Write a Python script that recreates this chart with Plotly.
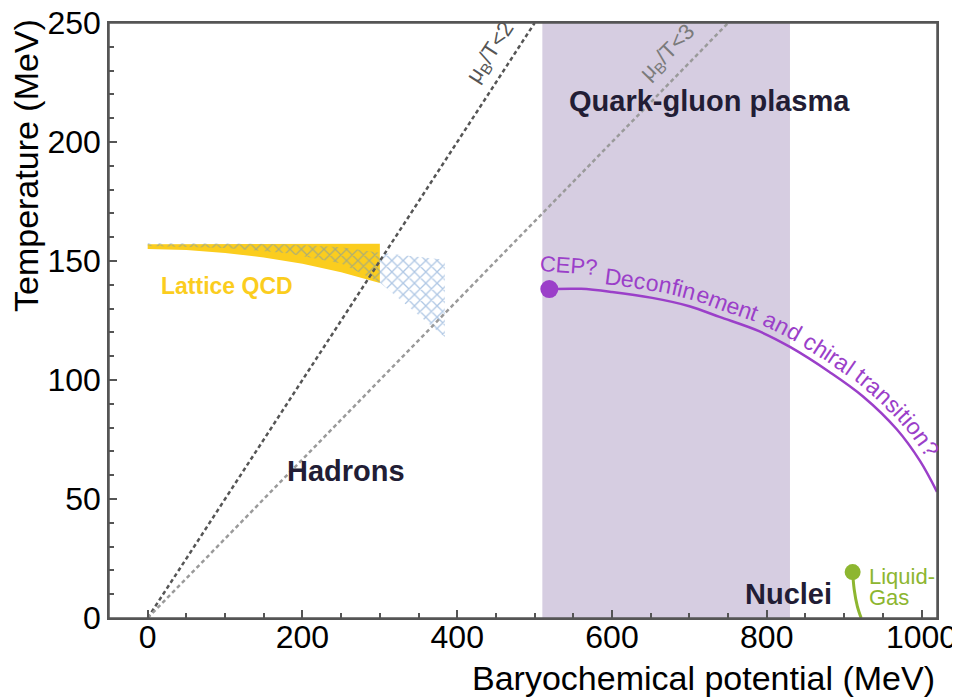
import math
import numpy as np
import plotly.graph_objects as go

# ---------------- data ----------------
x_range = [-50, 1020]
y_range = [0, 250]
x_major = 200
x_minor = 50
y_major = 50
y_minor = 10

qgp_mu = [510, 830]                      # shaded QGP band (MeV)

ratio2_mu = [0, 500]
ratio2_T = [0, 250]
ratio3_mu = [0, 750]
ratio3_T = [0, 250]

lat_mu = [0, 50, 100, 150, 200, 250, 300]
lat_upper = [157.0, 157.0, 157.0, 157.0, 157.0, 157.0, 157.3]
lat_lower = [155.0, 154.6, 153.4, 151.5, 148.8, 145.3, 140.8]

hatch_mu = [0, 100, 180, 250, 300, 384]
hatch_upper = [157.5, 157.4, 157.0, 155.8, 153.5, 150.5]
hatch_lower = [156.3, 155.5, 153.3, 149.0, 141.0, 118.0]

cep_mu = [519, 560, 600, 652, 700, 739, 790, 830, 881, 924, 968, 998, 1020]
cep_T = [138.2, 138.3, 137.0, 134.5, 131.0, 126.5, 120.5, 113.9, 103.4, 93.2, 79.3, 66.0, 53.0]

lg_mu = [911, 913, 917, 922]
lg_T = [19.3, 12.0, 5.0, 0.0]

curve_label = "Deconfinement and chiral transition?"

# ---------------- styles ----------------
FONT = "Liberation Sans, Arial, sans-serif"
PURPLE = "#9b3fc9"
YELLOW = "#fbcd1e"
GREEN = "#8db630"
DARK = "#221d35"
SHADE = "#d6cde1"
AXIS = "#555555"

# page geometry (the page body has an 8px default margin)
PAGE_OFF = 8
W, H = 960 - PAGE_OFF, 698 - PAGE_OFF
# plot area in page pixels
L, R, TOP, BOT = 109, 937, 23, 618
ML, MT = L - PAGE_OFF, TOP - PAGE_OFF
MR, MB = W - (R - PAGE_OFF), H - (BOT - PAGE_OFF)
sx = (R - L) / (x_range[1] - x_range[0])
sy = (BOT - TOP) / (y_range[1] - y_range[0])


def to_px(mu, T):
    return L + (mu - x_range[0]) * sx, BOT - (T - y_range[0]) * sy


def to_data(px, py):
    return x_range[0] + (px - L) / sx, y_range[0] + (BOT - py) / sy


fig = go.Figure()

# QGP shaded band
fig.add_shape(type="rect", xref="x", yref="y", x0=qgp_mu[0], x1=qgp_mu[1],
              y0=y_range[0], y1=y_range[1], fillcolor=SHADE, line=dict(width=0),
              layer="below")

# Lattice QCD yellow band
fig.add_trace(go.Scatter(x=lat_mu + lat_mu[::-1], y=lat_upper + lat_lower[::-1],
                         mode="lines", line=dict(width=0),
                         fill="toself", fillcolor=YELLOW, hoverinfo="skip"))

# hatched extrapolation region
fig.add_trace(go.Scatter(x=hatch_mu + hatch_mu[::-1], y=hatch_upper + hatch_lower[::-1],
                         mode="lines", line=dict(width=0),
                         fill="toself", fillcolor="rgba(0,0,0,0)",
                         fillpattern=dict(shape="x", size=8, solidity=0.3,
                                          fgcolor="#5f8fca", bgcolor="rgba(0,0,0,0)"),
                         hoverinfo="skip"))

# mu_B/T lines
fig.add_trace(go.Scatter(x=ratio2_mu, y=ratio2_T, mode="lines",
                         line=dict(color="#555555", width=2.5, dash="4px,3px")))
fig.add_trace(go.Scatter(x=ratio3_mu, y=ratio3_T, mode="lines",
                         line=dict(color="#9a9a9a", width=2.5, dash="4px,3px")))

# crossover / first order curve
fig.add_trace(go.Scatter(x=cep_mu, y=cep_T, mode="lines",
                         line=dict(color=PURPLE, width=2.5, shape="spline")))
fig.add_trace(go.Scatter(x=[cep_mu[0]], y=[cep_T[0]], mode="markers",
                         marker=dict(color=PURPLE, size=18)))

# liquid-gas
fig.add_trace(go.Scatter(x=lg_mu, y=lg_T, mode="lines",
                         line=dict(color=GREEN, width=3, shape="spline")))
fig.add_trace(go.Scatter(x=[lg_mu[0]], y=[lg_T[0]], mode="markers",
                         marker=dict(color=GREEN, size=16)))

ann = []


def label(x, y, text, size, color, bold=False, angle=0, xanchor="center"):
    ann.append(dict(x=x, y=y, xref="x", yref="y", text=f"<b>{text}</b>" if bold else text,
                    showarrow=False, font=dict(family=FONT, size=size, color=color),
                    textangle=angle, xanchor=xanchor, yanchor="middle"))


label(726, 217.2, "Quark-gluon plasma", 29, DARK, bold=True)
label(256, 61.8, "Hadrons", 29, DARK, bold=True)
label(828, 10.1, "Nuclei", 29, DARK, bold=True)
label(103, 139.5, "Lattice QCD", 23, YELLOW, bold=True)
label(544, 148.3, "CEP?", 22, PURPLE, angle=4)
label(930, 17.4, "Liquid-", 22, GREEN, xanchor="left")
label(930, 8.8, "Gas", 22, GREEN, xanchor="left")

# line labels rotated along lines
ang2 = -math.degrees(math.atan2(ratio2_T[1] * sy, ratio2_mu[1] * sx))
ang3 = -math.degrees(math.atan2(ratio3_T[1] * sy, ratio3_mu[1] * sx))
label(443, 237.5, "μ<sub>B</sub>/T&lt;2", 22, "#555555", angle=ang2)
label(672, 237.5, "μ<sub>B</sub>/T&lt;3", 22, "#7a7a7a", angle=ang3)

# text along the curve (per character)
widths = {"C": 722, "E": 667, "P": 667, "?": 556, " ": 278, "D": 722, "e": 556, "c": 500,
          "o": 556, "n": 556, "f": 278, "i": 222, "m": 833, "t": 278, "a": 556, "d": 556,
          "h": 556, "r": 333, "l": 222, "s": 500}
fs = 23
pts = np.array([to_px(m, t) for m, t in zip(cep_mu, cep_T)])
# Catmull-Rom through the curve points (pixel space)
P = np.vstack([2 * pts[0] - pts[1], pts, 2 * pts[-1] - pts[-2]])
dense = []
for i in range(1, len(P) - 2):
    p0, p1, p2, p3 = P[i - 1], P[i], P[i + 1], P[i + 2]
    for tt in np.linspace(0, 1, 30, endpoint=False):
        dense.append(0.5 * ((2 * p1) + (-p0 + p2) * tt + (2 * p0 - 5 * p1 + 4 * p2 - p3) * tt ** 2
                            + (-p0 + 3 * p1 - 3 * p2 + p3) * tt ** 3))
dense.append(pts[-1])
dense = np.array(dense)
seg = np.hypot(np.diff(dense[:, 0]), np.diff(dense[:, 1]))
s_arr = np.concatenate([[0], np.cumsum(seg)])


def at(s):
    x = np.interp(s, s_arr, dense[:, 0])
    y = np.interp(s, s_arr, dense[:, 1])
    return x, y


s_start = float(np.interp(603, dense[:, 0], s_arr))
offset = 15
s_cur = s_start
for ch in curve_label:
    w = widths.get(ch, 556) * fs / 1000
    sc = s_cur + w / 2
    x0, y0 = at(sc - 4)
    x1, y1 = at(sc + 4)
    th = math.atan2(y1 - y0, x1 - x0)
    cx, cy = at(sc)
    px = cx + offset * math.sin(th)
    py = cy - offset * math.cos(th)
    if ch != " ":
        dx, dy = to_data(px, py)
        ann.append(dict(x=dx, y=dy, xref="x", yref="y", text=ch, showarrow=False,
                        font=dict(family=FONT, size=fs, color=PURPLE),
                        textangle=math.degrees(th), xanchor="center", yanchor="middle"))
    s_cur += w

# axis titles (positions given in page pixels, converted to paper coords)
ann.append(dict(x=1.0, y=(BOT - 678) / (BOT - TOP), xref="paper", yref="paper",
                text="Baryochemical potential (MeV)", showarrow=False,
                font=dict(family=FONT, size=34, color="black"),
                xanchor="right", yanchor="middle"))
ann.append(dict(x=(26 - L) / (R - L), y=(BOT - 166) / (BOT - TOP), xref="paper", yref="paper",
                text="Temperature (MeV)", showarrow=False, textangle=-90,
                font=dict(family=FONT, size=34, color="black"),
                xanchor="center", yanchor="middle"))

# plot frame drawn explicitly so every side is visible
fig.add_shape(type="rect", xref="paper", yref="paper", x0=0, x1=1, y0=0, y1=1,
              line=dict(color=AXIS, width=1.5), fillcolor="rgba(0,0,0,0)", layer="above")

fig.update_layout(width=W, height=H, margin=dict(l=ML, r=MR, t=MT, b=MB, autoexpand=False),
                  plot_bgcolor="white", paper_bgcolor="white", showlegend=False,
                  annotations=ann)
axis_common = dict(ticks="inside", ticklen=8, tickwidth=1.5, tickcolor=AXIS,
                   showline=True, linecolor=AXIS, linewidth=1.5, mirror=True,
                   showgrid=False, zeroline=False, automargin=False,
                   ticklabeloverflow="allow",
                   tickfont=dict(family=FONT, size=32, color="black"))
fig.update_xaxes(range=x_range, tick0=0, dtick=x_major, ticklabelstandoff=-10,
                 minor=dict(ticks="inside", ticklen=5, dtick=x_minor, tick0=0,
                            tickcolor=AXIS, showgrid=False),
                 **axis_common)
fig.update_yaxes(range=y_range, tick0=0, dtick=y_major,
                 minor=dict(ticks="inside", ticklen=5, dtick=y_minor, tick0=0,
                            tickcolor=AXIS, showgrid=False),
                 **axis_common)

fig.write_html("out.html")
